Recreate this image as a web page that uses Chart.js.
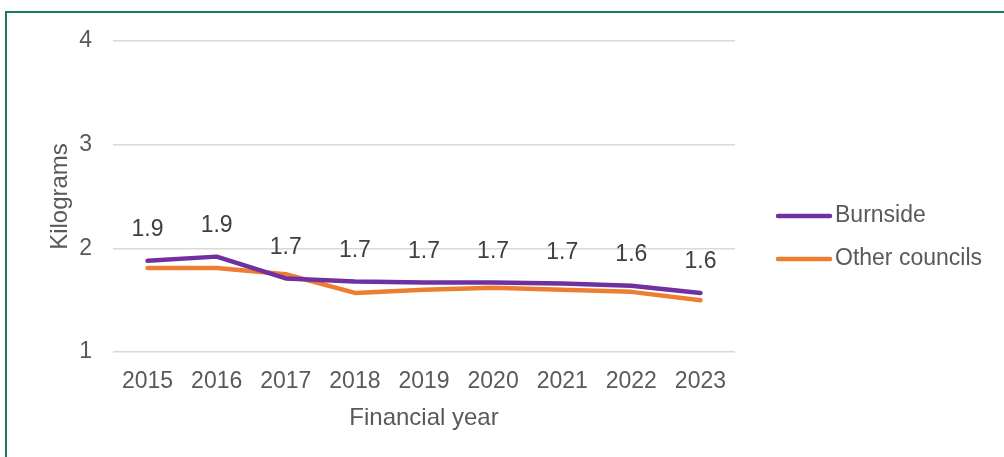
<!DOCTYPE html>
<html>
<head>
<meta charset="utf-8">
<script src="https://cdn.jsdelivr.net/npm/chart.js@4.4.1/dist/chart.umd.min.js"></script>
<style>
  html, body { margin: 0; padding: 0; background: #ffffff; }
  #wrap { position: relative; width: 1004px; height: 457px; overflow: hidden; }
  #frame { position: absolute; left: 5px; top: 11px; width: 1004px; height: 460px;
           border-left: 2px solid #1d7766; border-top: 2px solid #1d7766; box-sizing: border-box; }
  canvas { position: absolute; left: 0; top: 0; }
</style>
</head>
<body>
<div id="wrap">
  <div id="frame"></div>
  <canvas id="c" width="1004" height="457"></canvas>
</div>
<script>
const categories = ['2015', '2016', '2017', '2018', '2019', '2020', '2021', '2022', '2023'];
const burnside = [1.88, 1.92, 1.71, 1.68, 1.67, 1.67, 1.66, 1.64, 1.57];
const otherCouncils = [1.81, 1.81, 1.75, 1.57, 1.60, 1.62, 1.60, 1.58, 1.50];
const yTicks = [1, 2, 3, 4];
const seriesNames = ['Burnside', 'Other councils'];
const seriesColors = ['#7030a0', '#ed7d31'];

const FONT = "'Liberation Sans', Arial, sans-serif";

const labelPlugin = {
  id: 'valueLabels',
  afterDatasetsDraw(chart) {
    const ctx = chart.ctx;
    const meta = chart.getDatasetMeta(0);
    const data = chart.data.datasets[0].data;
    ctx.save();
    ctx.font = '23px ' + FONT;
    ctx.fillStyle = '#404040';
    ctx.textAlign = 'center';
    ctx.textBaseline = 'middle';
    meta.data.forEach((pt, i) => {
      ctx.fillText(data[i].toFixed(1), pt.x, pt.y - 31);
    });
    ctx.restore();
  }
};

const legendPlugin = {
  id: 'customLegend',
  afterDraw(chart) {
    const ctx = chart.ctx;
    ctx.save();
    chart.data.datasets.forEach((ds, i) => {
      const y = 216 + i * 43;
      ctx.strokeStyle = ds.borderColor;
      ctx.lineWidth = 4.5;
      ctx.lineCap = 'round';
      ctx.beginPath();
      ctx.moveTo(778, y);
      ctx.lineTo(830, y);
      ctx.stroke();
      ctx.font = '23px ' + FONT;
      ctx.fillStyle = '#595959';
      ctx.textAlign = 'left';
      ctx.textBaseline = 'middle';
      ctx.fillText(ds.label, 835, y);
    });
    ctx.restore();
  }
};

new Chart(document.getElementById('c'), {
  type: 'line',
  data: {
    labels: categories,
    datasets: [
      { label: seriesNames[0], data: burnside, borderColor: seriesColors[0], backgroundColor: seriesColors[0],
        borderWidth: 4.5, pointRadius: 0, tension: 0, borderCapStyle: 'round', borderJoinStyle: 'round' },
      { label: seriesNames[1], data: otherCouncils, borderColor: seriesColors[1], backgroundColor: seriesColors[1],
        borderWidth: 4.5, pointRadius: 0, tension: 0, borderCapStyle: 'round', borderJoinStyle: 'round' }
    ]
  },
  options: {
    responsive: false,
    animation: false,
    events: [],
    layout: { padding: { left: 0, right: 269, top: 41, bottom: 24 } },
    plugins: { legend: { display: false }, tooltip: { enabled: false } },
    scales: {
      x: {
        offset: true,
        grid: { display: false, drawTicks: false },
        border: { display: false },
        ticks: { color: '#595959', font: { family: FONT, size: 23 }, padding: 16, maxRotation: 0 },
        title: { display: true, text: 'Financial year', color: '#595959',
                 font: { family: FONT, size: 24 }, padding: { top: 8, bottom: 0 } },
        afterFit(scale) { scale.height = 81; }
      },
      y: {
        min: 1, max: 4,
        afterBuildTicks(scale) { scale.ticks = yTicks.map(v => ({ value: v })); },
        grid: { color: '#d9d9d9', lineWidth: 1.5, drawTicks: false },
        border: { display: false },
        ticks: { color: '#595959', font: { family: FONT, size: 23 }, padding: 21 },
        title: { display: true, text: 'Kilograms', color: '#595959',
                 font: { family: FONT, size: 24 }, padding: { top: 46, bottom: 0 } },
        afterFit(scale) { scale.width = 113; }
      }
    }
  },
  plugins: [labelPlugin, legendPlugin]
});
</script>
</body>
</html>
